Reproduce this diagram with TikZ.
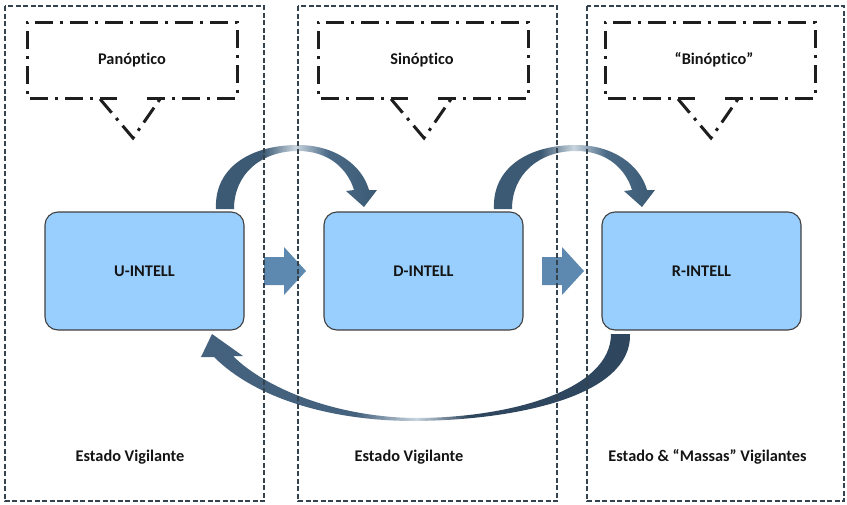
\documentclass[tikz,border=0pt]{standalone}
\usepackage{fontspec}
\setmainfont{Carlito}[Ligatures=NoCommon]
\definecolor{boxfill}{HTML}{99CFFF}
\definecolor{boxline}{HTML}{404040}
\definecolor{blockarrow}{HTML}{5D89B1}
\definecolor{arcdark}{HTML}{3C5A74}
\definecolor{arcmid}{HTML}{44627D}
\definecolor{arcright}{HTML}{4A6A86}
\definecolor{arcdeep}{HTML}{2F475E}
\definecolor{arclight}{HTML}{C9D5DF}
\definecolor{panelline}{HTML}{34434E}
\definecolor{calloutline}{HTML}{1E1E1E}
\pgfdeclarehorizontalshading{toparc}{100bp}{color(0bp)=(arcdark); color(25bp)=(arcdark); color(40bp)=(arcdark); color(50bp)=(arclight); color(60bp)=(arcright); color(75bp)=(arcdark); color(100bp)=(arcdark)}
\pgfdeclarehorizontalshading{botarc}{100bp}{color(0bp)=(arcmid); color(25bp)=(arcmid); color(43bp)=(arcmid); color(50bp)=(arclight); color(56bp)=(arcdeep); color(75bp)=(arcdeep); color(100bp)=(arcdeep)}
\tikzset{
  panel/.style={draw=panelline, line width=1.4pt, dash pattern=on 5pt off 2.5pt},
  callout/.style={draw=calloutline, line width=3pt, dash pattern=on 18pt off 7pt on 3pt off 7pt},
  ibox/.style={draw=boxline, fill=boxfill, rounded corners=13pt, line width=1.1pt,
    minimum width=199pt, minimum height=118pt, inner sep=0pt},
  lbl/.style={font=\bfseries\fontsize{16.3}{19}\selectfont, text=black!92, inner sep=0pt},
  callpic/.pic={
    \draw[callout] (15,38) -- (105,38) -- (105,-38) -- (-105,-38) -- (-105,38) -- (-15,38);
    \draw[callout] (-32,39) -- (1,78) -- (28,39);
  }
}
\begin{document}
\begin{tikzpicture}[x=1pt, y=-1pt]
\useasboundingbox (0,0) rectangle (847,504);

% callouts
\pic at (132,60) {callpic};
\pic at (423,60) {callpic};
\pic at (710,60) {callpic};
\node[lbl] (tP) at (132,60) {Panóptico};
\node[lbl] (tS) at (422,60) {Sinóptico};
\node[lbl] (tB) at (714,60) {“Binóptico”};

% main boxes
\node[ibox, lbl] (U) at (144.5,271) {U-INTELL};
\node[ibox, lbl] (D) at (423.5,271) {D-INTELL};
\node[ibox, lbl] (R) at (701.5,271) {R-INTELL};

% block arrows
\fill[blockarrow] (264,257) -- (284,257) -- (284,247) -- (306,271) -- (284,295) -- (284,285) -- (264,285) -- cycle;
\fill[blockarrow] (542,257) -- (562,257) -- (562,247) -- (584,271) -- (562,295) -- (562,285) -- (542,285) -- cycle;

% top curved arrows
\foreach \dx in {0,278}{
\begin{scope}[xshift=\dx]
\shade[shading=toparc] (216,209) .. controls (214,168) and (250,145) .. (298,145)
  .. controls (335,145) and (362,165) .. (369,190)
  -- (377,190) -- (364,207) -- (346,191) -- (354,190)
  .. controls (348,170) and (330,151) .. (298,151)
  .. controls (260,151) and (234,175) .. (234,209) -- cycle;
\end{scope}
}

% bottom curved arrow
\shade[shading=botarc] (630,334) .. controls (632,395) and (520,420) .. (415,421)
  .. controls (330,421) and (255,398) .. (214,357)
  -- (201,357) -- (212,334) -- (243,356) -- (233,356)
  .. controls (265,388) and (335,417) .. (415,418)
  .. controls (510,418) and (611,390) .. (611,334) -- cycle;

% bottom labels
\node[lbl] (e1) at (130,457) {Estado Vigilante};
\node[lbl] (e2) at (409,457) {Estado Vigilante};
\node[lbl] (e3) at (707.5,457) {Estado \& “Massas” Vigilantes};

% panels
\draw[panel] (5,6) rectangle (264,501);
\draw[panel] (298,6) rectangle (557,501);
\draw[panel] (587,6) rectangle (844,501);
\end{tikzpicture}
\end{document}
